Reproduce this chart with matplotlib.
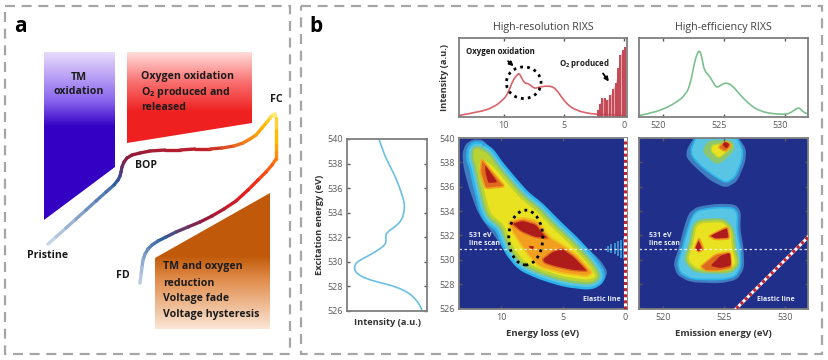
import numpy as np
import matplotlib
matplotlib.use("Agg")
import matplotlib.pyplot as plt
from matplotlib.collections import LineCollection
from matplotlib.colors import LinearSegmentedColormap
from matplotlib.patches import Ellipse, PathPatch, Polygon, Rectangle
from matplotlib.path import Path
from matplotlib.transforms import ScaledTranslation

plt.rcParams["font.family"] = ["Open Sans", "DejaVu Sans"]
plt.rcParams["mathtext.default"] = "regular"

W, H = 829, 360

# panel a, schematic in picture pixels
trap_tm = [(44, 52), (115, 52), (115, 167), (44, 220)]
trap_ox = [(127, 52), (252, 52), (252, 123), (127, 143)]
trap_red = [(155, 258), (270, 193), (270, 329), (155, 329)]
curve_x = [48, 56, 66, 76, 86, 96, 106, 114, 118, 120, 121, 122, 124, 127, 132, 140, 150, 165, 180, 195, 210, 222,
           234, 243, 250, 256, 262, 267, 270, 273, 275, 276, 276, 276, 276, 276, 272, 266, 258, 248, 236, 224, 212,
           200, 188, 176, 166, 158, 152, 148, 145, 143, 142, 141, 140]
curve_y = [244, 237, 228, 219, 210, 201, 192, 185, 180, 176, 172, 167, 162, 158, 155, 153, 151, 150, 150, 149, 149,
           148, 146, 143, 139, 135, 128, 122, 118, 115, 114, 118, 130, 145, 152, 159, 165, 172, 180, 190, 201, 209,
           216, 222, 227, 232, 237, 241, 245, 249, 254, 260, 267, 275, 283]
curve_stops = [(0.0, "#C5D3E6"), (0.13, "#2F5F9F"), (0.18, "#4A3A7F"), (0.24, "#8E1B3E"), (0.36, "#C0202A"),
               (0.42, "#F0701A"), (0.5, "#FFC000"), (0.56, "#FFF08A"), (0.6, "#FFC000"), (0.66, "#FF7A10"),
               (0.73, "#EE1C1C"), (0.8, "#8E1B3E"), (0.87, "#2F5F9F"), (1.0, "#B5C9E2")]

# panel b, left spectrum
scan_exc = [540, 539, 538, 537, 536, 535, 534.5, 534, 533.5, 533, 532.5, 532.2, 531.8, 531.4, 531, 530.5, 530.1,
            529.8, 529.4, 529, 528.6, 528.3, 528, 527.5, 527, 526.5, 526]
scan_int = [0.40, 0.45, 0.52, 0.60, 0.66, 0.71, 0.72, 0.71, 0.69, 0.63, 0.52, 0.48, 0.49, 0.48, 0.40, 0.27, 0.15,
            0.10, 0.09, 0.13, 0.25, 0.42, 0.60, 0.77, 0.85, 0.91, 0.94]

# panel b, high-resolution spectrum
hr_loss = [13.72, 12.0, 10.89, 10.06, 9.64, 9.22, 8.94, 8.72, 8.53, 8.25, 7.97, 7.69, 7.42, 7.14, 6.58, 6.03, 5.61,
           5.19, 4.64, 3.94, 3.11, 2.28, 0.0]
hr_int = [0.02, 0.064, 0.119, 0.213, 0.298, 0.468, 0.519, 0.56, 0.502, 0.426, 0.426, 0.391, 0.362, 0.374, 0.391,
          0.391, 0.349, 0.255, 0.149, 0.085, 0.051, 0.034, 0.02]
stick_loss = [2.14, 2.0, 1.78, 1.58, 1.36, 1.11, 0.89, 0.67, 0.47, 0.28, 0.06, -0.14]
stick_int = [0.09, 0.17, 0.236, 0.236, 0.215, 0.28, 0.36, 0.43, 0.62, 0.785, 0.85, 0.89]

# panel b, high-efficiency spectrum
he_em = [518.09, 519.24, 520.33, 521.14, 521.83, 522.23, 522.56, 522.83, 523.05, 523.22, 523.38, 523.73, 524.0,
         524.28, 524.47, 524.82, 525.18, 525.64, 526.32, 527.14, 527.96, 529.05, 530.14, 530.54, 530.95, 531.17,
         531.44, 531.85]
he_int = [0.02, 0.055, 0.119, 0.19, 0.277, 0.404, 0.681, 0.82, 0.84, 0.723, 0.587, 0.532, 0.468, 0.391, 0.374,
          0.413, 0.434, 0.404, 0.277, 0.149, 0.072, 0.038, 0.034, 0.064, 0.111, 0.115, 0.064, 0.038]

# high-resolution map contours (energy loss, excitation energy)
hr_blue = [(12.27, 539.9), (12.89, 539.52), (13.16, 538.75), (13.08, 537.66), (12.67, 536.03), (11.86, 533.72),
           (10.5, 531.9), (9.4, 530.2), (8.6, 529.2), (6.1, 528.3), (2.59, 527.9), (1.64, 528.3), (1.38, 529.02),
           (2.0, 530.0), (3.4, 531.3), (4.75, 532.7), (6.0, 534.0), (7.0, 534.8), (8.35, 535.89), (9.43, 537.26),
           (10.5, 538.75), (11.46, 539.85)]
hr_band = [(12.0, 539.0), (12.05, 538.4), (11.8, 537.66), (11.59, 536.58), (10.92, 533.8), (9.75, 532.84),
           (9.08, 531.07), (8.13, 529.84), (6.65, 529.16), (4.75, 528.57), (2.86, 528.34), (2.32, 528.67),
           (3.0, 529.71), (4.48, 531.34), (6.1, 532.84), (7.13, 533.98), (8.35, 534.94), (9.43, 536.17),
           (10.65, 537.66), (11.2, 538.5)]
hr_yellow = [(11.64, 538.35), (11.8, 537.66), (11.59, 536.58), (10.92, 533.8), (9.75, 532.84), (9.08, 531.07),
             (8.13, 529.84), (6.65, 529.16), (4.75, 528.57), (2.86, 528.34), (2.32, 528.67), (3.0, 529.71),
             (4.48, 531.34), (6.1, 532.84), (7.13, 533.98), (8.35, 534.94), (9.43, 536.17), (10.65, 537.66)]
hr_orange = [(9.48, 533.11), (8.27, 533.47), (7.05, 533.2), (6.1, 531.88), (5.02, 531.2), (3.89, 530.39),
             (2.59, 528.94), (3.08, 528.62), (5.29, 528.94), (6.91, 529.43), (7.72, 530.25), (8.4, 531.2),
             (9.08, 532.3)]
hr_red_a = [(9.2, 532.98), (8.27, 533.25), (7.18, 532.92), (6.7, 532.3), (6.16, 531.7), (7.32, 531.83), (8.4, 532.3)]
hr_red_b = [(6.7, 530.04), (5.83, 530.71), (5.02, 530.93), (4.08, 530.25), (2.92, 529.02), (4.21, 529.1),
            (5.7, 529.43), (6.51, 529.71)]
hr_red_c = [(7.85, 531.15), (7.3, 531.1), (7.5, 530.8)]
hr_tip_orange = [(11.6, 538.3), (10.7, 537.2), (9.7, 536.0), (11.3, 535.85), (11.7, 537.2)]
hr_tip_red = [(11.32, 537.8), (10.3, 536.36), (11.05, 536.3), (11.27, 537.1)]
ripple_loss = [1.35, 1.08, 0.81, 0.54, 0.27, 0.08]
ripple_half = [0.25, 0.35, 0.45, 0.6, 0.75, 0.85]

# high-efficiency map contours (emission energy, excitation energy)
he_top_blue = [(522.64, 540.2), (521.96, 539.1), (521.91, 538.4), (522.64, 537.6), (523.87, 536.5), (525.1, 535.9),
               (526.05, 536.4), (526.73, 538.0), (526.81, 539.1), (526.05, 540.2)]
he_top_cyan = [(522.78, 540.2), (522.29, 539.1), (522.37, 538.5), (523.05, 537.75), (524.14, 536.9), (525.18, 536.3),
               (525.91, 536.8), (526.46, 538.15), (526.51, 539.1), (525.91, 540.2)]
he_top_green = [(523.65, 539.8), (523.19, 538.85), (524.47, 537.7), (525.91, 539.0), (525.64, 539.85)]
he_top_yellow = [(524.09, 539.5), (523.87, 539.0), (524.55, 538.3), (525.37, 539.0), (525.72, 539.5)]
he_top_orange = [(524.47, 539.25), (525.1, 538.85), (525.64, 539.4), (525.18, 539.75)]
he_top_red = [(524.82, 539.5), (525.18, 539.1), (525.46, 539.5), (525.1, 539.7)]
he_low_blue = [(522.78, 534.35), (522.1, 533.8), (521.69, 532.55), (521.28, 530.9), (520.87, 529.7), (521.14, 528.75),
               (522.23, 528.15), (524.69, 528.05), (526.05, 528.35), (526.65, 529.3), (526.59, 530.95),
               (526.32, 532.55), (526.38, 533.95), (525.91, 534.55), (524.41, 534.6)]
he_low_cyan = [(522.83, 534.05), (522.37, 533.5), (521.96, 532.3), (521.55, 530.8), (521.2, 529.7), (521.42, 528.9),
               (522.37, 528.4), (524.69, 528.35), (525.91, 528.6), (526.38, 529.45), (526.32, 530.95),
               (526.05, 532.45), (526.1, 533.8), (525.78, 534.25), (524.41, 534.3)]
he_low_yellow = [(522.78, 532.98), (524.83, 533.1), (525.5, 532.43), (525.64, 530.93), (525.97, 529.71),
                 (525.37, 529.16), (522.78, 529.24), (522.04, 529.98), (522.48, 531.34)]
he_a_orange = [(523.68, 531.94), (525.32, 532.76), (525.48, 531.7), (524.28, 531.64)]
he_a_red = [(523.87, 531.97), (525.23, 532.62), (525.37, 531.8), (524.28, 531.75)]
he_b_orange = [(522.95, 531.83), (523.36, 530.88), (522.97, 530.6), (522.56, 530.93)]
he_b_red = [(522.91, 531.6), (523.19, 530.93), (522.91, 530.66), (522.64, 530.96)]
he_c_orange = [(523.05, 529.43), (524.28, 530.44), (525.5, 530.66), (525.64, 529.3), (524.55, 529.08), (523.52, 529.08)]
he_c_red = [(523.87, 529.49), (524.69, 530.33), (525.5, 530.58), (525.58, 529.52), (524.69, 529.3)]
elastic_em = [526, 532]
elastic_exc = [526, 532]

NAVY, BLUE, CYAN, LIGHT = "#1F2F8A", "#3F7DC0", "#2BB3EA", "#58C5E4"
GREEN, LIME, YELLOW, ORANGE, DEEP, RED = "#8CC66E", "#B9D334", "#E8E220", "#F29F1F", "#DE6A1E", "#AE1B1B"
GRAY = "#7F7F7F"
TXT = "#1A1A1A"
TICK = "#5A5A5A"


def px_axes(x0, y0, x1, y1):
    return fig.add_axes([x0 / W, 1 - y1 / H, (x1 - x0) / W, (y1 - y0) / H])


def blob(ax, pts, color, edge=None, lw=0, f=0.3):
    # closed outline through the read points, corners just rounded off
    pts = np.array(pts, dtype=float)
    prv = np.roll(pts, 1, axis=0)
    nxt = np.roll(pts, -1, axis=0)
    verts, codes = [], []
    for p, a, b in zip(pts, prv, nxt):
        verts += [p + f * (a - p), p, p + f * (b - p)]
        codes += [Path.LINETO, Path.CURVE3, Path.CURVE3]
    codes[0] = Path.MOVETO
    verts.append(verts[0])
    codes.append(Path.LINETO)
    ax.add_patch(PathPatch(Path(verts, codes), facecolor=color, edgecolor=edge or color, lw=lw, joinstyle="round"))


def smooth(ax, x, y, color, lw):
    # the read points are used as bezier control points
    pts = np.column_stack([x, y]).astype(float)
    verts = [pts[0]]
    codes = [Path.MOVETO]
    for i in range(1, len(pts) - 1):
        verts += [pts[i], (pts[i] + pts[i + 1]) / 2]
        codes += [Path.CURVE3, Path.CURVE3]
    verts.append(pts[-1])
    codes.append(Path.LINETO)
    ax.add_patch(PathPatch(Path(verts, codes), fc="none", ec=color, lw=lw))


def grad(ax, pts, stops, y0, y1):
    cm = LinearSegmentedColormap.from_list("g", stops)
    t = np.clip((np.arange(H) + 0.5 - y0) / (y1 - y0), 0, 1)
    im = ax.imshow(t[:, None], cmap=cm, vmin=0, vmax=1, extent=(0, W, H, 0), aspect="auto", zorder=1)
    poly = Polygon(pts, transform=ax.transData, fc="none", ec="none")
    ax.add_patch(poly)
    im.set_clip_path(poly)


def style(ax, labelsize=6.5):
    for s in ax.spines.values():
        s.set_color(GRAY)
        s.set_linewidth(1.3)
    ax.tick_params(direction="in", length=2.5, width=1, color=TICK, labelsize=labelsize, labelcolor=TICK, pad=3,
                   top=True, right=True)


fig = plt.figure(figsize=(W / 100, H / 100), dpi=100)

# whole-picture layer with panel a and the dashed frames
bg = fig.add_axes([0, 0, 1, 1])
grad(bg, trap_tm, [(0, "#E8DCFB"), (0.55, "#8A66EE"), (0.85, "#3300C4"), (1, "#3300C4")], 52, 140)
grad(bg, trap_ox, [(0, "#FFDEDC"), (0.5, "#F97070"), (1, "#EF2020")], 52, 112)
grad(bg, trap_red, [(0, "#C05A0A"), (0.3, "#E08A48"), (1, "#FBE6D6")], 256, 329)
bg.add_patch(Rectangle((5.5, 5.5), 285, 348, fc="none", ec="#A6A6A6", lw=1.6, ls=(0, (4.5, 3))))
bg.add_patch(Rectangle((301.5, 5.5), 520.5, 348, fc="none", ec="#A6A6A6", lw=1.6, ls=(0, (4.5, 3))))

pts = np.column_stack([curve_x, curve_y])
segs = np.stack([pts[:-1], pts[1:]], axis=1)
cmap = LinearSegmentedColormap.from_list("c", curve_stops)
bg.add_collection(LineCollection(segs, colors=cmap(np.linspace(0, 1, len(segs))), lw=2.4, capstyle="round", zorder=3))

bg.set_xlim(0, W)
bg.set_ylim(H, 0)
bg.axis("off")

fa = dict(fontsize=7.6, fontweight="bold", color=TXT, va="center", zorder=5)
bg.text(20, 27, "a", fontsize=15, fontweight="bold", color="black", ha="center", va="center")
bg.text(316, 26, "b", fontsize=15, fontweight="bold", color="black", ha="center", va="center")
bg.text(79, 77, "TM", ha="center", **fa)
bg.text(79, 92, "oxidation", ha="center", **fa)
for y, s in zip([77, 92, 108], ["Oxygen oxidation", "O$_2$ produced and", "released"]):
    bg.text(141, y, s, ha="left", **fa)
for y, s in zip([267, 283, 298, 314], ["TM and oxygen", "reduction", "Voltage fade", "Voltage hysteresis"]):
    bg.text(163, y, s, ha="left", **fa)
bg.text(48, 256, "Pristine", ha="center", **fa)
bg.text(146, 166, "BOP", ha="center", **fa)
bg.text(276, 99, "FC", ha="center", **fa)
bg.text(123, 276, "FD", ha="center", **fa)

# left spectrum
ax = px_axes(347, 139, 427, 311)
smooth(ax, scan_int, scan_exc, "#6BBFE3", 1.2)
ax.set_xlim(0, 1)
ax.set_ylim(526, 540)
ax.set_xticks([])
ax.set_yticks(range(526, 541, 2))
style(ax)
ax.tick_params(top=False)
ax.set_ylabel("Excitation energy (eV)", fontsize=6.7, fontweight="bold", color="#333333", labelpad=2)
ax.set_xlabel("Intensity (a.u.)", fontsize=6.7, fontweight="bold", color="#333333", labelpad=5)

# top spectra
ax = px_axes(459, 38, 627, 117)
ax.fill_between(stick_loss, 0, stick_int, color="#EBA9AE", lw=0)
ax.vlines(stick_loss, 0, stick_int, color="#C0404F", lw=1.3)
smooth(ax, hr_loss, hr_int, "#D9636B", 1.2)
ax.set_xlim(13.72, -0.28)
ax.set_ylim(0, 1)
ax.set_xticks([10, 5, 0])
ax.set_yticks([])
style(ax)
ax.set_ylabel("Intensity (a.u.)", fontsize=6.7, fontweight="bold", color="#333333", labelpad=7)
ax.add_patch(Ellipse((8.33, 0.434), 2.89, 0.40, fc="none", ec="black", lw=2, ls=(0, (1, 1.5))))
ax.text(10.3, 0.83, "Oxygen oxidation", fontsize=5.7, fontweight="bold", color=TXT, ha="center", va="center")
ax.text(3.3, 0.68, "O$_2$ produced", fontsize=5.7, fontweight="bold", color=TXT, ha="center", va="center")
ax.annotate("", xy=(9.0, 0.62), xytext=(9.8, 0.73), arrowprops=dict(arrowstyle="-|>", color="black", lw=1.3, mutation_scale=6))
ax.annotate("", xy=(1.1, 0.42), xytext=(1.85, 0.58), arrowprops=dict(arrowstyle="-|>", color="black", lw=1.3, mutation_scale=6))
ax.set_title("High-resolution RIXS", fontsize=7.7, color="#404040", pad=6)

ax = px_axes(639, 38, 808, 117)
smooth(ax, he_em, he_int, "#7CC08E", 1.2)
ax.set_xlim(518.05, 531.85)
ax.set_ylim(0, 1)
ax.set_xticks([520, 525, 530])
ax.set_yticks([])
style(ax)
shift = ScaledTranslation(-5 / 100, 0, fig.dpi_scale_trans)
for t in ax.get_xticklabels():
    t.set_transform(t.get_transform() + shift)
ax.set_title("High-efficiency RIXS", fontsize=7.7, color="#404040", pad=6)

# high-resolution map, bands drawn as strokes round one read outline
ax = px_axes(459, 138, 627, 309)
ax.set_facecolor(NAVY)
blob(ax, hr_blue, BLUE)
for band_color, band_lw in [(CYAN, 14.5), (LIGHT, 11), (GREEN, 7.5), (LIME, 4)]:
    blob(ax, hr_band, band_color, band_color, band_lw)
blob(ax, hr_yellow, YELLOW)
blob(ax, hr_orange, ORANGE, "#F2C020", 1.2, f=0.2)
blob(ax, hr_red_a, RED, DEEP, 1, f=0.2)
blob(ax, hr_red_b, RED, DEEP, 1, f=0.2)
blob(ax, hr_red_c, RED)
blob(ax, hr_tip_orange, DEEP, ORANGE, 1.2, f=0.15)
blob(ax, hr_tip_red, RED, f=0.15)
ax.vlines(ripple_loss, 530.9 - np.array(ripple_half), 530.9 + np.array(ripple_half), color="#3A8FD0", lw=1.4)
ax.axhline(530.9, color="white", lw=0.9, ls=(0, (2, 2)), alpha=0.85)
ax.add_patch(Ellipse((8.02, 531.82), 2.76, 4.5, fc="none", ec="black", lw=2, ls=(0, (1, 1.5)), zorder=5))
ax.axvline(0, color="white", lw=2.2, zorder=6)
ax.axvline(0, color="#C8202A", lw=2.2, ls=(0, (1, 1)), zorder=7)
ax.text(12.6, 531.65, "531 eV\nline scan", fontsize=5, fontweight="bold", color="#E8EEF8", ha="left", va="center", linespacing=1.3)
ax.text(1.84, 526.76, "Elastic line", fontsize=5, fontweight="bold", color="#E8EEF8", ha="center", va="center")
ax.set_xlim(13.43, -0.19)
ax.set_ylim(525.95, 540)
ax.set_xticks([10, 5, 0])
ax.set_yticks(range(526, 541, 2))
style(ax)
ax.set_xlabel("Energy loss (eV)", fontsize=6.8, fontweight="bold", color="#333333", labelpad=5)

# high-efficiency map
ax = px_axes(639, 138, 808, 309)
ax.set_facecolor(NAVY)
blob(ax, he_top_blue, BLUE)
blob(ax, he_top_cyan, LIGHT, CYAN, 1.2)
blob(ax, he_top_green, GREEN)
blob(ax, he_top_yellow, YELLOW, LIME, 1)
blob(ax, he_top_orange, DEEP, ORANGE, 1)
blob(ax, he_top_red, RED)
blob(ax, he_low_blue, BLUE)
blob(ax, he_low_cyan, LIGHT, CYAN, 1.2)
blob(ax, he_low_yellow, GREEN, GREEN, 6)
blob(ax, he_low_yellow, LIME, LIME, 3)
blob(ax, he_low_yellow, YELLOW)
for o, r in [(he_a_orange, he_a_red), (he_b_orange, he_b_red), (he_c_orange, he_c_red)]:
    blob(ax, o, DEEP, ORANGE, 1, f=0.2)
    blob(ax, r, RED, f=0.2)
ax.axhline(530.9, color="white", lw=0.9, ls=(0, (2, 2)), alpha=0.85)
ax.plot(elastic_em, elastic_exc, color="white", lw=2.2, zorder=6)
ax.plot(elastic_em, elastic_exc, color="#C8202A", lw=2.2, ls=(0, (1, 1)), zorder=7)
ax.text(518.83, 531.65, "531 eV\nline scan", fontsize=5, fontweight="bold", color="#E8EEF8", ha="left", va="center", linespacing=1.3)
ax.text(529.24, 526.76, "Elastic line", fontsize=5, fontweight="bold", color="#E8EEF8", ha="center", va="center")
ax.set_xlim(518.05, 531.85)
ax.set_ylim(525.95, 540)
ax.set_xticks([520, 525, 530])
ax.set_yticks(range(526, 541, 2))
ax.set_yticklabels([])
style(ax)
ax.set_xlabel("Emission energy (eV)", fontsize=6.8, fontweight="bold", color="#333333", labelpad=5)

fig.savefig("out.png", dpi=100)
